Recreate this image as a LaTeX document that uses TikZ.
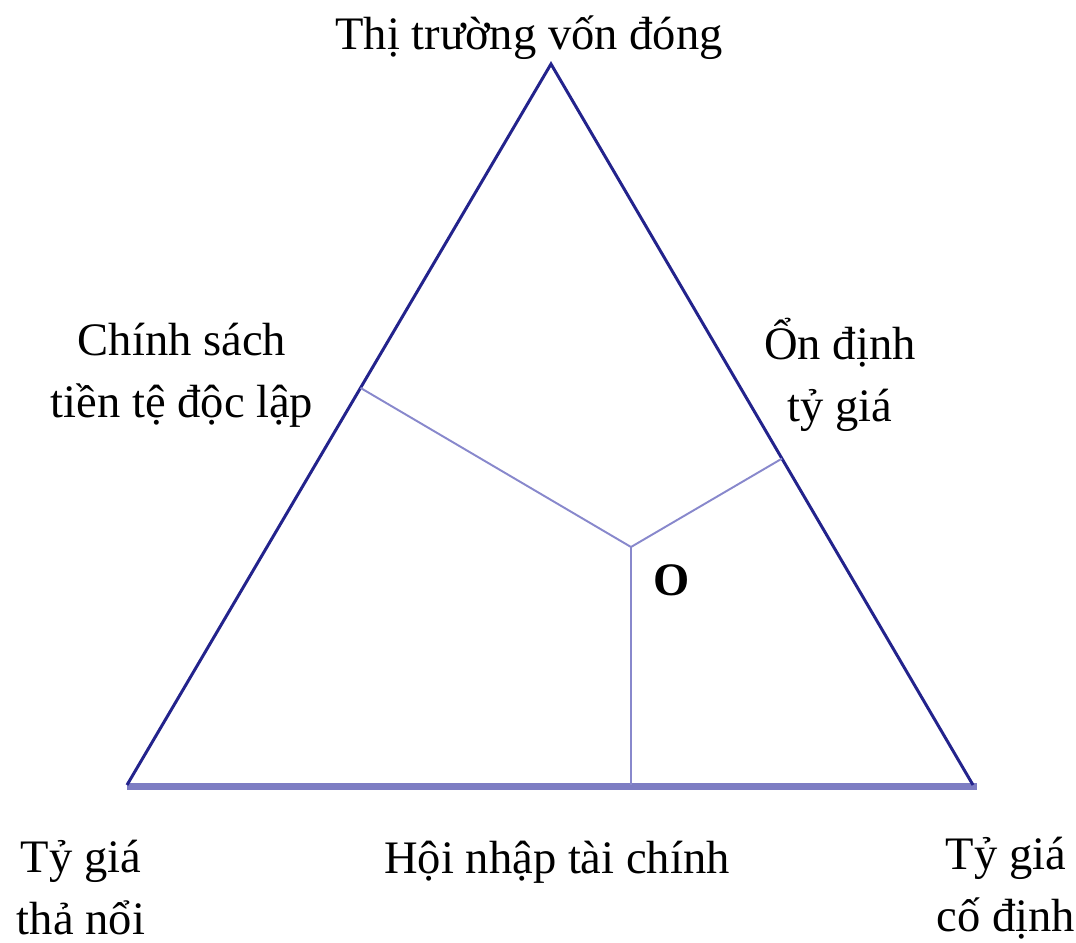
\documentclass[tikz,border=0pt]{standalone}
\usepackage{fontspec}
\setmainfont{Liberation Serif}
\usetikzlibrary{calc}
\definecolor{sidec}{RGB}{35,35,140}
\definecolor{basec}{RGB}{125,125,195}
\definecolor{linkc}{RGB}{136,136,204}
\begin{document}
\begin{tikzpicture}[x=0.02cm, y=-0.02cm,
    side/.style={draw=sidec, line width=1.7pt, line join=miter},
    basel/.style={draw=basec, line width=3.6pt},
    link/.style={draw=linkc, line width=1.1pt},
    lbl/.style={font=\fontsize{26.5}{35.3}\selectfont, align=center, inner sep=0pt},
  ]
  \useasboundingbox (0,0) rectangle (1076,943);

  % --- corners of the triangle and the point O inside it
  \coordinate (top) at (551,64);
  \coordinate (fl) at (127,785);
  \coordinate (fx) at (973,785);
  \coordinate (O) at (631,547);
  % --- feet of the perpendiculars from O
  \coordinate (mpL) at ($(top)!(O)!(fl)$);
  \coordinate (mpR) at ($(top)!(O)!(fx)$);
  \coordinate (mpB) at ($(fl)!(O)!(fx)$);

  \draw[basel] ([yshift=-0.03cm]fl) -- ([xshift=0.08cm,yshift=-0.03cm]fx);
  \draw[side] (fl) -- (top) -- (fx);
  \draw[link] (mpL) -- (O) -- (mpR);
  \draw[link] (O) -- (mpB);

  % --- labels
  \node[lbl, anchor=base] (tvd) at (529,50) {Thị trường vốn đóng};
  \node[lbl] (csl) at (182,375) {Chính sách\\tiền tệ độc lập};
  \node[lbl] (odt) at (840,375) {Ổn định\\tỷ giá};
  \node[lbl, anchor=base, font=\fontsize{26.5}{35.3}\selectfont\bfseries] (lO) at (672,595) {O};
  \node[lbl] (tgtn) at (81,888) {Tỷ giá\\thả nổi};
  \node[lbl, anchor=base] (hntc) at (557,873) {Hội nhập tài chính};
  \node[lbl] (tgcd) at (1006,888) {Tỷ giá\\cố định};

\end{tikzpicture}
\end{document}
